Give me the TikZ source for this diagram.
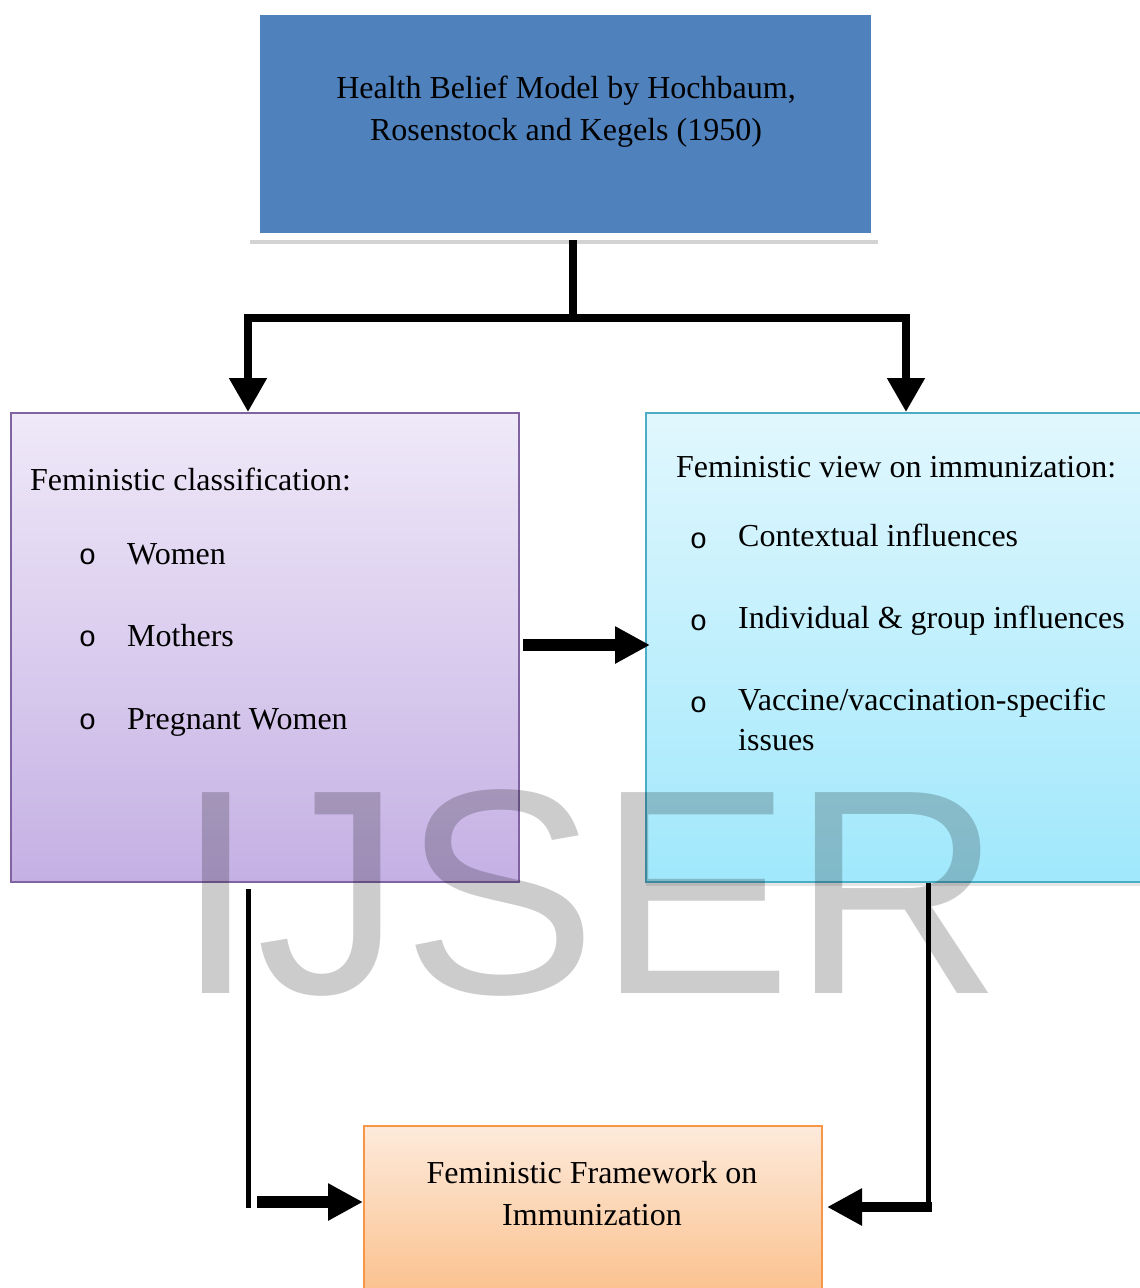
\documentclass[tikz,border=0pt]{standalone}
\usepackage{fontspec}
\setmainfont{Liberation Serif}
\newfontfamily\wmfont{Liberation Sans}
\newfontfamily\bulfont{Liberation Mono}
\usetikzlibrary{arrows.meta,shadows}
\definecolor{hbmblue}{HTML}{4F81BD}
\definecolor{purpborder}{HTML}{8064A2}
\definecolor{purptop}{HTML}{EFE9F8}
\definecolor{purpbot}{HTML}{C5B0E4}
\definecolor{cyanborder}{HTML}{4BACC6}
\definecolor{cyantop}{HTML}{E1F7FD}
\definecolor{cyanbot}{HTML}{A0E8FC}
\definecolor{orborder}{HTML}{F79646}
\definecolor{ortop}{HTML}{FDEADB}
\definecolor{orbot}{HTML}{FBBE88}
\tikzset{
  boxtext/.style={font=\fontsize{32}{42}\selectfont, inner sep=0pt, anchor=base west},
  bul/.style={font=\bulfont\fontsize{29}{42}\selectfont, inner sep=0pt, anchor=base},
  ctext/.style={font=\fontsize{32}{42}\selectfont, align=center, inner sep=0pt},
  bigarrow/.style={line width=8pt, -{Triangle[width=36pt,length=34pt]}},
  fatarrow/.style={line width=12pt, -{Triangle[width=35pt,length=35pt]}},
  midarrow/.style={line width=10pt, -{Triangle[width=35pt,length=35pt]}},
  thinline/.style={line width=5pt},
}
\begin{document}
\begin{tikzpicture}[x=1pt,y=-1pt]
\useasboundingbox (0,0) rectangle (1140,1288);
% top box
\node[fill=white, inner sep=0pt, minimum width=628pt, minimum height=232pt, anchor=north west,
      drop shadow={shadow xshift=0pt, shadow yshift=-4pt, opacity=0.35}] (frame) at (250,8) {};
\node[fill=hbmblue, inner sep=0pt, minimum width=611pt, minimum height=218pt, anchor=north west] (hbm) at (260,15) {};
\node[ctext] (hbmtext) at (566,112) {Health Belief Model by Hochbaum,\\Rosenstock and Kegels (1950)};
% left box
\node[draw=purpborder, line width=2pt, top color=purptop, bottom color=purpbot, inner sep=0pt,
      minimum width=508pt, minimum height=469pt, anchor=north west] (lbox) at (10,412) {};
\node[boxtext] (lhead) at (30,490) {Feministic classification:};
\node[bul] (lb1) at (87.5,564) {o};
\node[boxtext] (l1) at (127,564) {Women};
\node[bul] (lb2) at (87.5,646) {o};
\node[boxtext] (l2) at (127,646) {Mothers};
\node[bul] (lb3) at (87.5,729) {o};
\node[boxtext] (l3) at (127,729) {Pregnant Women};
% right box
\node[draw=cyanborder, line width=2pt, top color=cyantop, bottom color=cyanbot, inner sep=0pt,
      minimum width=505pt, minimum height=469pt, anchor=north west,
      drop shadow={shadow xshift=0pt, shadow yshift=-4pt, opacity=0.2}] (rbox) at (645,412) {};
\node[boxtext] (rhead) at (676,477) {Feministic view on immunization:};
\node[bul] (rb1) at (698.5,548) {o};
\node[boxtext] (r1) at (738,546) {Contextual influences};
\node[bul] (rb2) at (698.5,630) {o};
\node[boxtext] (r2) at (738,628) {Individual \& group influences};
\node[bul] (rb3) at (698.5,712) {o};
\node[boxtext] (r3) at (738,710) {Vaccine/vaccination-specific};
\node[boxtext] (r4) at (738,750) {issues};
% bottom box
\node[draw=orborder, line width=2pt, top color=ortop, bottom color=orbot, inner sep=0pt,
      minimum width=458pt, minimum height=180pt, anchor=north west] (bbox) at (363,1125) {};
\node[ctext] (btext) at (592,1194) {Feministic Framework on\\Immunization};
% connectors
\coordinate (split) at (573,318);
\draw[line width=8pt] (frame.south -| split) -- (split);
\draw[bigarrow] (split) -| ([xshift=-15pt]lbox.north -| 263,0);
\draw[bigarrow] (split) -| (rbox.north -| 906,0);
\coordinate (mstart) at (523,645);
\draw[fatarrow] (mstart) -- ([xshift=5pt]rbox.west |- mstart);
\coordinate (lvtop) at (248,889);
\coordinate (lvbot) at (248,1208);
\draw[thinline] (lvtop) -- (lvbot);
\coordinate (lastart) at (257,1202);
\draw[fatarrow] (lastart) -- (bbox.west |- lastart);
\coordinate (rvtop) at (928,883);
\coordinate (rvbot) at (928,1210);
\draw[thinline] (rvtop) -- (rvbot);
\coordinate (rastart) at (932,1207);
\draw[midarrow] (rastart) -- ([xshift=4pt]bbox.east |- rastart);
% watermark
\node[font=\wmfont\fontsize{292}{300}\selectfont, text=black, text opacity=0.2, inner sep=0pt, anchor=base west] (wm) at (175,993) {IJSER};
\end{tikzpicture}
\end{document}
